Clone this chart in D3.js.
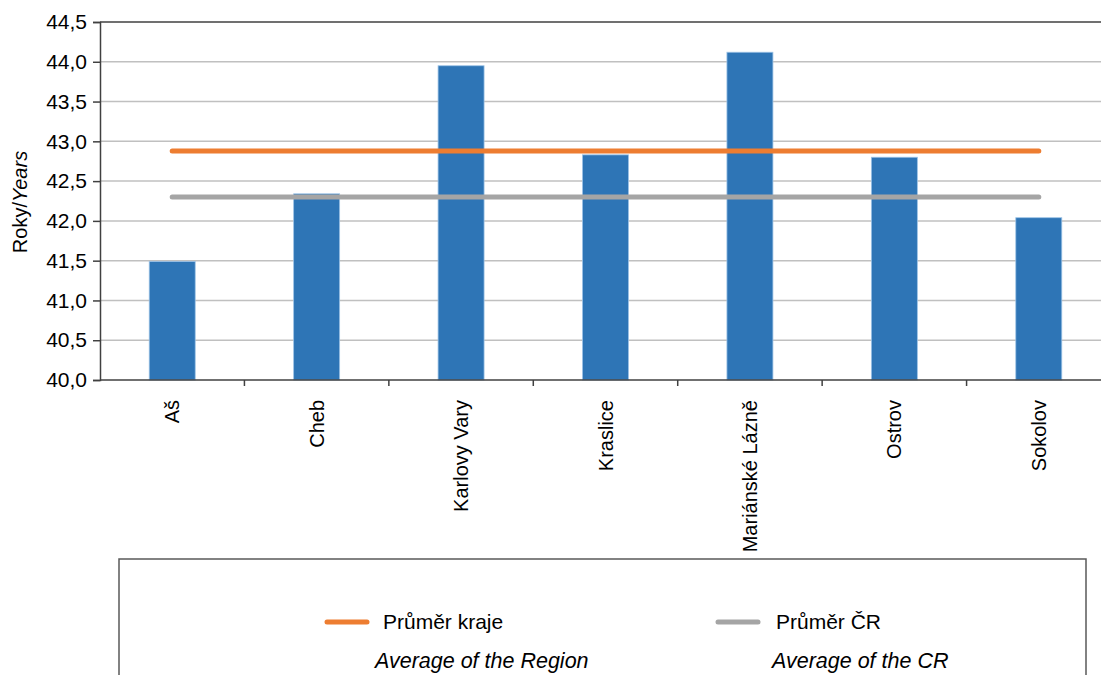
<!DOCTYPE html>
<html><head><meta charset="utf-8">
<script src="https://cdn.jsdelivr.net/npm/d3@7"></script>
<style>
html,body{margin:0;padding:0;background:#fff;}
svg text{font-family:"Liberation Sans",Arial,sans-serif;fill:#000;}
</style></head>
<body><svg id="c" width="1101" height="675"></svg>
<script>
const categories = ["Aš","Cheb","Karlovy Vary","Kraslice","Mariánské Lázně","Ostrov","Sokolov"];
const values = [41.49, 42.34, 43.95, 42.83, 44.12, 42.80, 42.04];
const regionAvg = 42.88;
const crAvg = 42.30;
const yTicks = [40.0,40.5,41.0,41.5,42.0,42.5,43.0,43.5,44.0,44.5];
const legendItems = [
  {cz:"Průměr kraje", en:"Average of the Region", color:"#ED7D31"},
  {cz:"Průměr ČR", en:"Average of the CR", color:"#A5A5A5"}
];

const svg = d3.select("#c");
const L = 100, R = 1111, T = 22, B = 380;
const x = d3.scaleBand().domain(categories).range([L, R]).padding(0);
const y = d3.scaleLinear().domain([40, 44.5]).range([B, T]);
const fmt = v => d3.format(".1f")(v).replace(".", ",");

// gridlines
svg.append("g").selectAll("line").data(yTicks.filter(t => t > 40 && t < 44.5)).join("line")
  .attr("x1", L).attr("x2", 1101).attr("y1", d => y(d)).attr("y2", d => y(d))
  .attr("stroke", "#c0c0c0").attr("stroke-width", 1.5);
// top border
svg.append("line").attr("x1", L).attr("x2", 1101).attr("y1", y(44.5)).attr("y2", y(44.5))
  .attr("stroke", "#404040").attr("stroke-width", 1.5);

// bars
const bw = 46;
svg.append("g").selectAll("rect").data(values).join("rect")
  .attr("x", (d, i) => x(categories[i]) + x.bandwidth() / 2 - bw / 2)
  .attr("width", bw)
  .attr("y", d => y(d))
  .attr("height", d => y(40) - y(d))
  .attr("fill", "#2E75B6").attr("stroke", "#9DC3E6").attr("stroke-width", 0.8);

// avg lines
const first = x(categories[0]) + x.bandwidth() / 2;
const last = x(categories[categories.length - 1]) + x.bandwidth() / 2;
[[regionAvg, legendItems[0].color], [crAvg, legendItems[1].color]].forEach(([v, c]) => {
  svg.append("line").attr("x1", first).attr("x2", last).attr("y1", y(v)).attr("y2", y(v))
    .attr("stroke", c).attr("stroke-width", 5).attr("stroke-linecap", "round");
});

// y axis
const yAxis = d3.axisLeft(y).tickValues(yTicks).tickFormat(fmt).tickSize(7).tickPadding(6);
const gy = svg.append("g").attr("transform", `translate(${L},0)`).call(yAxis);
gy.select(".domain").attr("stroke", "#404040").attr("stroke-width", 1.5);
gy.selectAll(".tick line").attr("stroke", "#404040").attr("stroke-width", 1.5);
gy.selectAll(".tick text").style("font-size", "21px").attr("fill", "#000");

// x axis
const gx = svg.append("g").attr("transform", `translate(0,${B})`);
gx.append("line").attr("x1", L).attr("x2", 1101).attr("y1", 0).attr("y2", 0)
  .attr("stroke", "#404040").attr("stroke-width", 1.5);
gx.selectAll("line.tk").data(categories.slice(1)).join("line").attr("class", "tk")
  .attr("x1", d => x(d)).attr("x2", d => x(d)).attr("y1", 0).attr("y2", 6)
  .attr("stroke", "#404040").attr("stroke-width", 1.5);
gx.selectAll("text").data(categories).join("text")
  .attr("transform", d => `translate(${x(d) + x.bandwidth() / 2 + 7},20) rotate(-90)`)
  .attr("text-anchor", "end")
  .style("font-size", "20px")
  .text(d => d);

// y label
const yl = svg.append("text")
  .attr("transform", "translate(27,202) rotate(-90)")
  .attr("text-anchor", "middle")
  .style("font-size", "20px");
yl.append("tspan").text("Roky/");
yl.append("tspan").style("font-style", "italic").text("Years");

// legend box
svg.append("rect").attr("x", 119).attr("y", 559).attr("width", 967).attr("height", 140)
  .attr("fill", "none").attr("stroke", "#595959").attr("stroke-width", 1.5);
const lx = [325, 716];
const tx = [383, 776];
const ex = [375, 772];
legendItems.forEach((it, i) => {
  svg.append("line").attr("x1", lx[i] + 2).attr("x2", lx[i] + 42).attr("y1", 622).attr("y2", 622)
    .attr("stroke", it.color).attr("stroke-width", 5).attr("stroke-linecap", "round");
  svg.append("text").attr("x", tx[i]).attr("y", 629).style("font-size", "21px").text(it.cz);
  svg.append("text").attr("x", ex[i]).attr("y", 668).style("font-size", "21.5px")
    .style("font-style", "italic").text(it.en);
});
</script></body></html>
